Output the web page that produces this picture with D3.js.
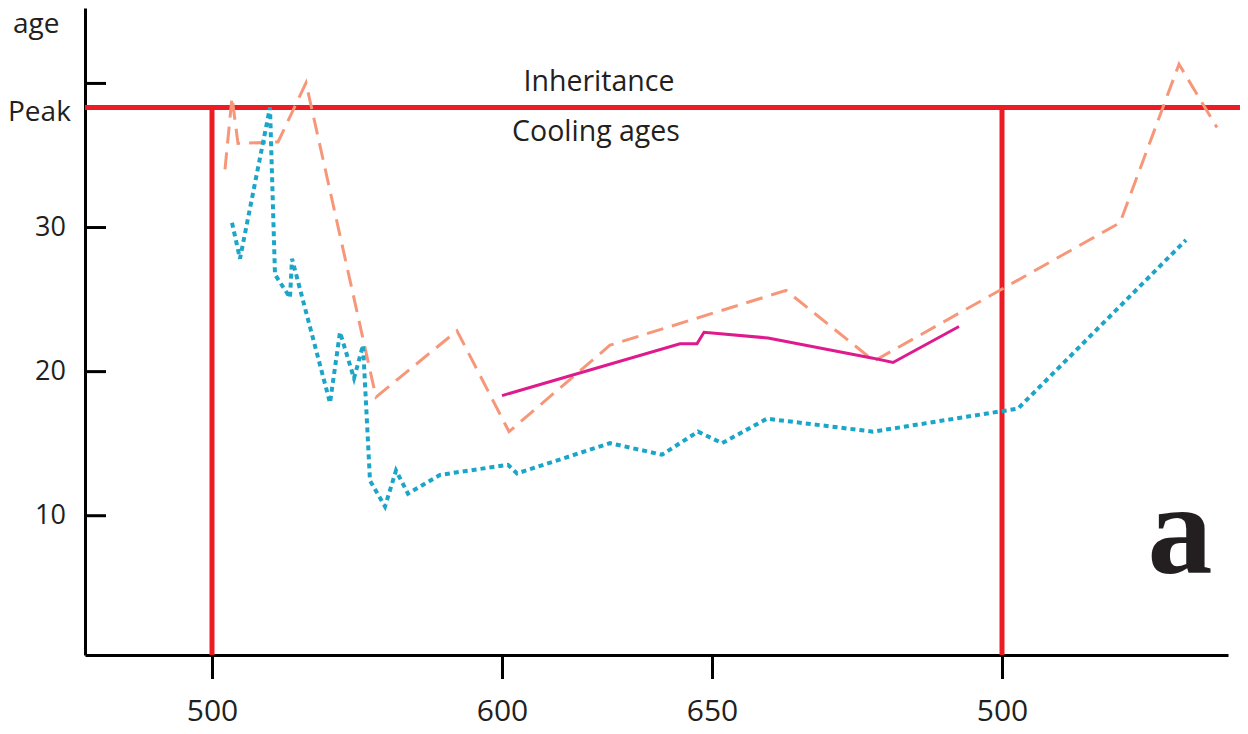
<!DOCTYPE html>
<html>
<head>
<meta charset="utf-8">
<script src="https://cdn.jsdelivr.net/npm/d3@7"></script>
<style>
    body { margin: 0; background: #fff; }
    svg { display: block; }
    text { font-family: "Open Sans", "Noto Sans", sans-serif; fill: #231f20; }
</style>
</head>
<body>
<svg width="1248" height="734"></svg>
<script>
// positions along the profile (arbitrary units) and ages
const dashedPos = [14.0, 14.7, 15.3, 19.3, 22.1, 29.1, 37.2, 42.4, 52.5, 70.1, 78.9, 103.5, 109.4, 113.2];
const dashedAge = [34.0, 39.0, 35.8, 35.9, 40.0, 18.2, 22.8, 15.8, 21.8, 25.6, 20.7, 30.3, 41.3, 36.9];

const dottedPos = [14.7, 15.5, 18.5, 19.0, 20.5, 20.7, 24.5, 25.5, 26.9, 27.8, 28.5, 30.0, 31.1, 32.3, 35.5, 42.3, 43.2, 52.5, 57.7, 61.3, 63.7, 68.2, 78.8, 93.3, 110.1];
const dottedAge = [30.3, 27.8, 38.3, 26.7, 25.1, 27.8, 17.8, 22.7, 19.5, 21.8, 12.4, 10.6, 13.1, 11.5, 12.8, 13.5, 12.9, 15.0, 14.2, 15.8, 15.0, 16.7, 15.8, 17.4, 29.1];

const solidPos = [41.7, 59.5, 61.2, 61.9, 68.3, 78.8, 80.8, 87.4];
const solidAge = [18.3, 21.9, 21.9, 22.7, 22.3, 20.9, 20.6, 23.1];

const peakAge = 38.3;
const markerPos = [12.7, 91.7];

const xTickPos = [12.7, 41.7, 62.7, 91.7];
const xTickLabels = ["500", "600", "650", "500"];
const yTicks = [10, 20, 30, 40];
const yTickLabels = ["10", "20", "30", ""];

const svg = d3.select("svg");

const x = d3.scaleLinear().domain([0, 114.3]).range([85, 1228]);
const y = d3.scaleLinear().domain([0.3, 45.2]).range([655, 8]);

const toPts = (xs, ys) => xs.map((v, i) => [v, ys[i]]);
const line = d3.line().x((d) => x(d[0])).y((d) => y(d[1]));

// axes
const yAxis = svg
    .append("g")
    .attr("transform", `translate(${x(0)},0)`)
    .call(
        d3.axisLeft(y)
            .tickValues(yTicks)
            .tickFormat((d, i) => yTickLabels[i])
            .tickSizeInner(-21)
            .tickSizeOuter(0)
            .tickPadding(19)
    );
yAxis.select(".domain").attr("stroke", "#000").attr("stroke-width", 3);
yAxis.selectAll(".tick line").attr("stroke", "#000").attr("stroke-width", 3);
yAxis.selectAll(".tick text").attr("font-size", 27).attr("font-family", "Open Sans").attr("fill", "#231f20");

const xAxis = svg
    .append("g")
    .attr("transform", `translate(0,${y(0.3)})`)
    .call(
        d3.axisBottom(x)
            .tickValues(xTickPos)
            .tickFormat((d, i) => xTickLabels[i])
            .tickSizeInner(24)
            .tickSizeOuter(0)
            .tickPadding(21)
    );
xAxis.select(".domain").attr("stroke", "#000").attr("stroke-width", 3);
xAxis.selectAll(".tick line").attr("stroke", "#000").attr("stroke-width", 3);
xAxis.selectAll(".tick text").attr("font-size", 30).attr("font-family", "Open Sans").attr("fill", "#231f20");

// peak / marker lines
svg.append("line")
    .attr("x1", x(0))
    .attr("x2", x(115.5))
    .attr("y1", y(peakAge))
    .attr("y2", y(peakAge))
    .attr("stroke", "#ed1c24")
    .attr("stroke-width", 5);

svg.append("g")
    .selectAll("line")
    .data(markerPos)
    .enter()
    .append("line")
    .attr("x1", (d) => x(d))
    .attr("x2", (d) => x(d))
    .attr("y1", y(peakAge))
    .attr("y2", y(0.3))
    .attr("stroke", "#ed1c24")
    .attr("stroke-width", 5);

// series
svg.append("path")
    .datum(toPts(dashedPos, dashedAge))
    .attr("d", line)
    .attr("fill", "none")
    .attr("stroke", "#f7977a")
    .attr("stroke-width", 3)
    .attr("stroke-dasharray", "17,9");

svg.append("path")
    .datum(toPts(dottedPos, dottedAge))
    .attr("d", line)
    .attr("fill", "none")
    .attr("stroke", "#1ba6c9")
    .attr("stroke-width", 4)
    .attr("stroke-dasharray", "5,4");

svg.append("path")
    .datum(toPts(solidPos, solidAge))
    .attr("d", line)
    .attr("fill", "none")
    .attr("stroke", "#de1a8c")
    .attr("stroke-width", 3);

// labels
svg.append("text").text("age").attr("x", 13).attr("y", 33).attr("font-size", 28);
svg.append("text").text("Peak").attr("x", 8).attr("y", 121).attr("font-size", 28);

svg.append("text")
    .text("Inheritance")
    .attr("x", 599)
    .attr("y", 91)
    .attr("text-anchor", "middle")
    .attr("font-size", 28.5);

svg.append("text")
    .text("Cooling ages")
    .attr("x", 596)
    .attr("y", 141)
    .attr("text-anchor", "middle")
    .attr("font-size", 28.5);

svg.append("text")
    .text("a")
    .attr("x", 1180)
    .attr("y", 573)
    .attr("text-anchor", "middle")
    .attr("font-size", 130)
    .attr("font-weight", "bold")
    .style("font-family", "'Liberation Serif', 'DejaVu Serif', serif");
</script>
</body>
</html>
